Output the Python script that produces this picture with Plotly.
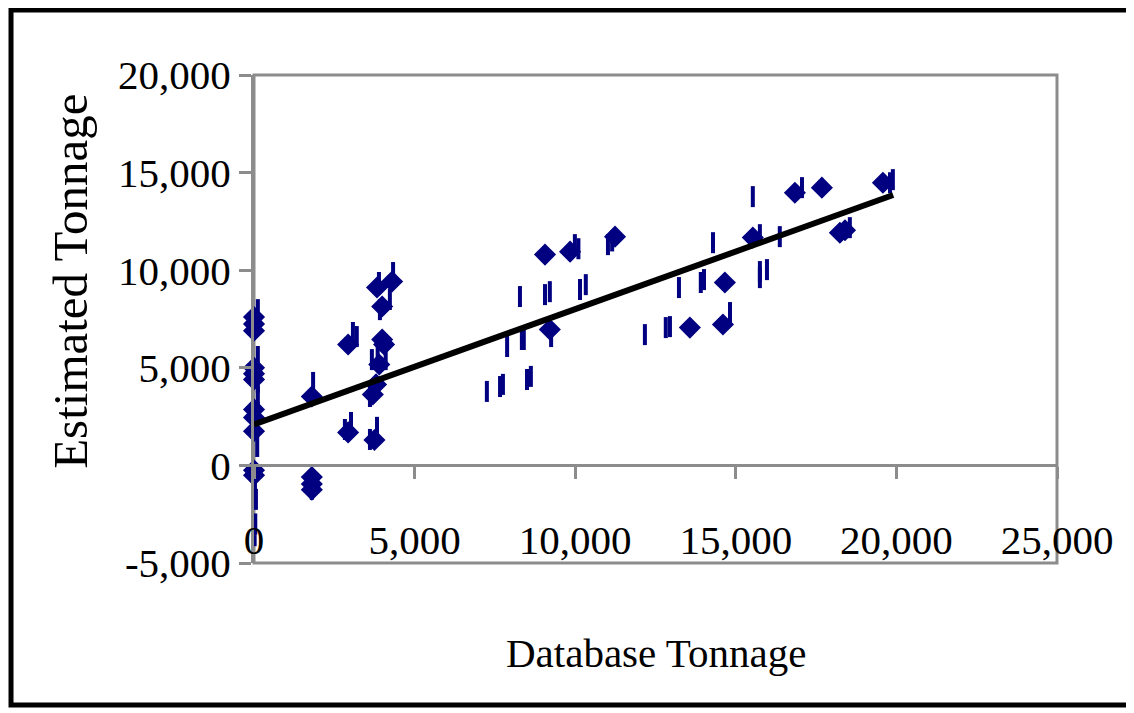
import plotly.graph_objects as go

# Diamond-marked points (Database Tonnage, Estimated Tonnage)
diamond_x = [0, 0, 0, 0, 0, 0, 0, 0, 0, 0, 0,
             1800, 1800, 1800, 1800,
             2930, 2930, 3750, 3830, 4300, 3990, 3990, 4050, 3900, 3800, 3700,
             9060, 9840, 11240, 9210, 13570, 14600, 14660, 15530, 16840, 17680,
             18240, 18400, 19580]
diamond_y = [7600, 7250, 6900, 5000, 4700, 4400, 2870, 2460, 1750, -250, -500,
             -600, -950, -1250, 3530,
             6190, 1690, 1300, 9110, 9420, 8140, 6450, 6200, 5170, 4150, 3630,
             10800, 10950, 11720, 6960, 7060, 7220, 9370, 11670, 13970, 14230,
             11920, 12050, 14480]

# Vertical-bar marked points
bar_x = [120, 120, 120, 120, 120, 100, 30, 60, 40, 20,
         1840, 1800, 2830, 3080, 3200, 3890, 4330, 3020, 3830, 3670, 3850, 4100,
         3610, 3920, 4230, 3610,
         7250, 7660, 7750, 7880, 8280, 8340, 8400, 8500, 8620, 9060, 9210,
         10150, 10330, 9250, 9990, 10100, 11020, 11150,
         12170, 12820, 12950, 13230, 13910, 14010, 14290, 14820, 15750,
         15530, 15750, 15750, 15970, 16370, 17060, 18550, 19800, 19890]
bar_y = [7980, 5580, 4250, 3530, 2700, 970, -1070, -1740, -3000, -3600,
         4250, -1230, 1840, 6810, 6600, 9370, 9880, 2200, 1950, 5420, 5900, 5420,
         3530, 7980, 8500, 1330,
         3790, 4040, 4150, 6090, 8650, 6450, 6450, 4400, 4560, 8750, 8900,
         9010, 9260, 6600, 11310, 11100, 11310, 11500,
         6700, 7060, 7110, 9110, 9370, 9520, 11410, 7830, 9620,
         13770, 11820, 9930, 10030, 11720, 14230, 12180, 14480, 14640]

# Linear trend line end points
trend_x = [0, 19900]
trend_y = [2100, 13850]

x_ticks = [0, 5000, 10000, 15000, 20000, 25000]
y_ticks = [-5000, 0, 5000, 10000, 15000, 20000]

NAVY = "#000080"
GRAY = "#8c8c8c"
FONT = "Liberation Serif, Times New Roman, serif"

fig = go.Figure()
fig.add_trace(go.Scatter(
    x=bar_x, y=bar_y, mode="markers",
    marker=dict(symbol="line-ns", size=15, line=dict(color=NAVY, width=4)),
    showlegend=False, cliponaxis=False))
fig.add_trace(go.Scatter(
    x=diamond_x, y=diamond_y, mode="markers",
    marker=dict(symbol="diamond", size=17, color=NAVY, line=dict(width=0)),
    showlegend=False, cliponaxis=False))
fig.add_trace(go.Scatter(
    x=trend_x, y=trend_y, mode="lines",
    line=dict(color="black", width=6), showlegend=False))

fig.update_layout(
    template="none",
    width=1126, height=705,
    margin=dict(l=246, r=77, t=67, b=150, autoexpand=False),
    paper_bgcolor="white", plot_bgcolor="white",
    font=dict(family=FONT, size=41, color="black"),
    xaxis=dict(range=[0, 25000], tickvals=x_ticks,
               ticktext=[f"{v:,}" for v in x_ticks],
               showgrid=False, zeroline=False, automargin=False,
               showline=True, linecolor=GRAY, linewidth=3,
               ticks="outside", ticklen=12, tickwidth=3, tickcolor=GRAY,
               anchor="free", position=0.2, ticklabelstandoff=25),
    yaxis=dict(range=[-5000, 20000], tickvals=y_ticks,
               ticktext=[f"{v:,}" for v in y_ticks],
               showgrid=False, zeroline=False, automargin=False,
               showline=True, linecolor=GRAY, linewidth=3,
               ticks="outside", ticklen=12, tickwidth=3, tickcolor=GRAY),
    shapes=[
        dict(type="rect", xref="paper", yref="paper", x0=0, x1=1, y0=0, y1=1,
             line=dict(color=GRAY, width=3), layer="below"),
        dict(type="path", xref="paper", yref="paper",
             path="M 1.25,1.133 L -0.3026,1.133 L -0.3026,-0.291 L 1.25,-0.291",
             line=dict(color="black", width=5)),
    ],
    annotations=[
        dict(text="Estimated Tonnage", xref="paper", yref="paper",
             x=-0.228, y=0.578, textangle=-90, showarrow=False,
             font=dict(size=49), xanchor="center", yanchor="middle"),
        dict(text="Database Tonnage", xref="paper", yref="paper",
             x=0.5, y=-0.184, showarrow=False,
             font=dict(size=41), xanchor="center", yanchor="middle"),
    ],
)

fig.write_html("out.html")
